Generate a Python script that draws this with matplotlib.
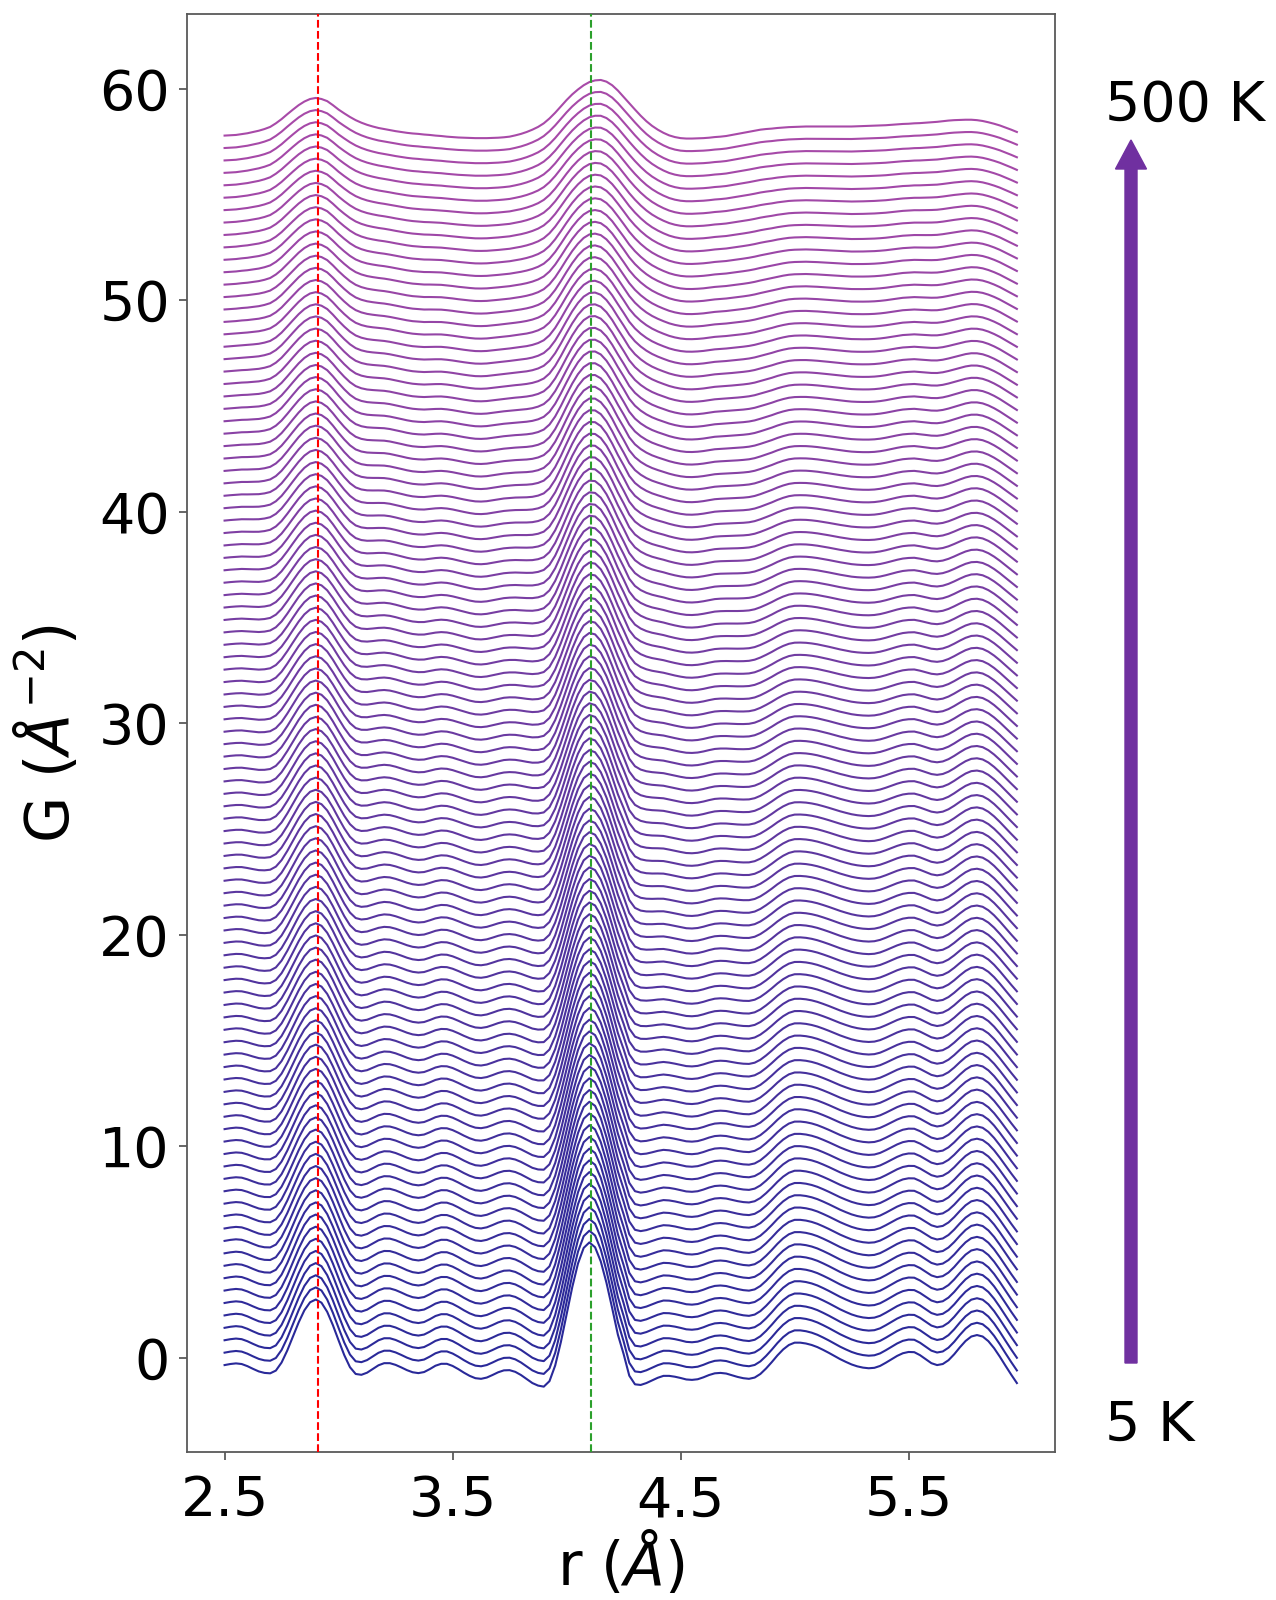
import numpy as np
import matplotlib
matplotlib.use("Agg")
import matplotlib.pyplot as plt
from matplotlib.patches import FancyArrow
from matplotlib.transforms import IdentityTransform

# ---- data ----
temperatures = list(range(5, 505, 5))          # 5 K ... 500 K, one curve each
r_values = np.round(2.5 + 0.025 * np.arange(140), 3)   # sampling grid 2.500 ... 5.975

# G(r) at 5 K (lowest curve)
g_5K = [-0.35, -0.30, -0.27, -0.30, -0.40, -0.53, -0.65, -0.72, -0.74, -0.61,
        -0.23, 0.34, 1.01, 1.67, 2.24, 2.62, 2.75, 2.60, 2.17, 1.54,
        0.82, 0.12, -0.45, -0.77, -0.81, -0.71, -0.535, -0.36, -0.26, -0.26,
        -0.34, -0.46, -0.59, -0.69, -0.73, -0.68, -0.54, -0.38, -0.29, -0.29,
        -0.39, -0.54, -0.71, -0.86, -0.97, -1.00, -0.94, -0.82, -0.69, -0.60,
        -0.59, -0.67, -0.82, -1.01, -1.20, -1.32, -1.37, -1.11, -0.37, 0.74,
        2.04, 3.34, 4.45, 5.19, 5.45, 5.22, 4.55, 3.54, 2.34, 1.09,
        0.18, -0.85, -1.26, -1.29, -1.20, -1.075, -0.95, -0.86, -0.86, -0.90,
        -0.96, -1.03, -1.05, -1.02, -0.93, -0.82, -0.74, -0.72, -0.75, -0.83,
        -0.91, -0.97, -1.00, -0.94, -0.77, -0.51, -0.21, 0.11, 0.39, 0.60,
        0.71, 0.71, 0.67, 0.60, 0.50, 0.37, 0.23, 0.08, -0.07, -0.20,
        -0.32, -0.41, -0.47, -0.50, -0.48, -0.39, -0.24, -0.08, 0.085, 0.21,
        0.27, 0.26, 0.12, -0.07, -0.26, -0.35, -0.30, -0.12, 0.16, 0.49,
        0.79, 1.00, 1.07, 1.00, 0.78, 0.45, 0.05, -0.38, -0.80, -1.20]

# G(r) at 500 K (highest curve, without its vertical offset)
g_500K = [-0.13, -0.115, -0.10, -0.06, -0.02, 0.04, 0.10, 0.18, 0.28, 0.45,
          0.65, 0.88, 1.10, 1.31, 1.48, 1.60, 1.65, 1.60, 1.50, 1.31,
          1.10, 0.92, 0.75, 0.60, 0.48, 0.38, 0.30, 0.23, 0.18, 0.13,
          0.08, 0.04, 0.00, -0.03, -0.05, -0.08, -0.10, -0.13, -0.15, -0.18,
          -0.20, -0.22, -0.23, -0.24, -0.25, -0.25, -0.25, -0.24, -0.23, -0.21,
          -0.18, -0.12, -0.05, 0.04, 0.15, 0.28, 0.45, 0.68, 0.95, 1.25,
          1.55, 1.82, 2.05, 2.25, 2.40, 2.48, 2.50, 2.42, 2.25, 2.00,
          1.70, 1.40, 1.10, 0.81, 0.55, 0.33, 0.15, 0.00, -0.12, -0.20,
          -0.25, -0.27, -0.27, -0.26, -0.25, -0.23, -0.20, -0.18, -0.15, -0.10,
          -0.05, 0.00, 0.05, 0.10, 0.15, 0.18, 0.20, 0.23, 0.25, 0.27,
          0.28, 0.29, 0.30, 0.30, 0.30, 0.30, 0.30, 0.30, 0.30, 0.30,
          0.30, 0.31, 0.32, 0.33, 0.34, 0.35, 0.36, 0.38, 0.40, 0.42,
          0.43, 0.45, 0.46, 0.48, 0.50, 0.52, 0.55, 0.58, 0.60, 0.61,
          0.62, 0.62, 0.60, 0.56, 0.50, 0.43, 0.35, 0.25, 0.15, 0.04]

assert len(g_5K) == len(r_values) == len(g_500K)

offset_step = 0.585
marker_lines = [2.91, 4.105]
marker_colors = ["red", "tab:green"]
x_ticks = [2.5, 3.5, 4.5, 5.5]
x_ticklabels = ["2.5", "3.5", "4.5", "5.5"]
y_ticks = [0, 10, 20, 30, 40, 50, 60]

color_low = np.array([0.16, 0.16, 0.60])
color_high = np.array([0.66, 0.29, 0.66])

# ---- figure ----
W, H = 1276, 1600
fig = plt.figure(figsize=(W / 100, H / 100), dpi=100)
ax = fig.add_axes([186.5 / W, 1 - 1452 / H, (1054.5 - 186.5) / W, (1452 - 14.3) / H])

r = np.array(r_values)
g_lo = np.array(g_5K)
g_hi = np.array(g_500K)
n = len(temperatures)
for i, T in enumerate(temperatures):
    w = i / (n - 1)
    g = (1 - w) * g_lo + w * g_hi
    col = (1 - w) * color_low + w * color_high
    ax.plot(r, g + i * offset_step, color=col, lw=1.5, zorder=2)

for xv, c in zip(marker_lines, marker_colors):
    ax.axvline(xv, color=c, ls="--", lw=1.5, zorder=3)

ax.set_xlim(2.333, 6.14)
ax.set_ylim(-4.46, 63.52)
ax.set_xticks(x_ticks)
ax.set_xticklabels(x_ticklabels)
ax.set_yticks(y_ticks)
ax.tick_params(labelsize=40, length=6, width=1.2, color="0.3")
ax.tick_params(axis="x", pad=10)
ax.tick_params(axis="y", pad=6)
for s in ax.spines.values():
    s.set_color("0.35")
    s.set_linewidth(1.3)
ax.set_xlabel(r"r ($\AA$)", fontsize=43)
ax.set_ylabel(r"G ($\AA^{-2}$)", fontsize=43)
ax.xaxis.set_label_coords(0.5, -0.054)
ax.yaxis.set_label_coords(-0.12, 0.5)

# temperature arrow and labels
arrow_color = "#7030A0"
fig.add_artist(FancyArrow(1131, H - 1363, 0, (1363 - 140), width=12,
                          head_width=31, head_length=29,
                          length_includes_head=True, color=arrow_color,
                          transform=IdentityTransform()))
fig.text(1105 / W, 1 - 120.5 / H, "500 K", fontsize=40, va="baseline", ha="left")
fig.text(1105 / W, 1 - 1441 / H, "5 K", fontsize=40, va="baseline", ha="left")

fig.savefig("out.png", dpi=100)
